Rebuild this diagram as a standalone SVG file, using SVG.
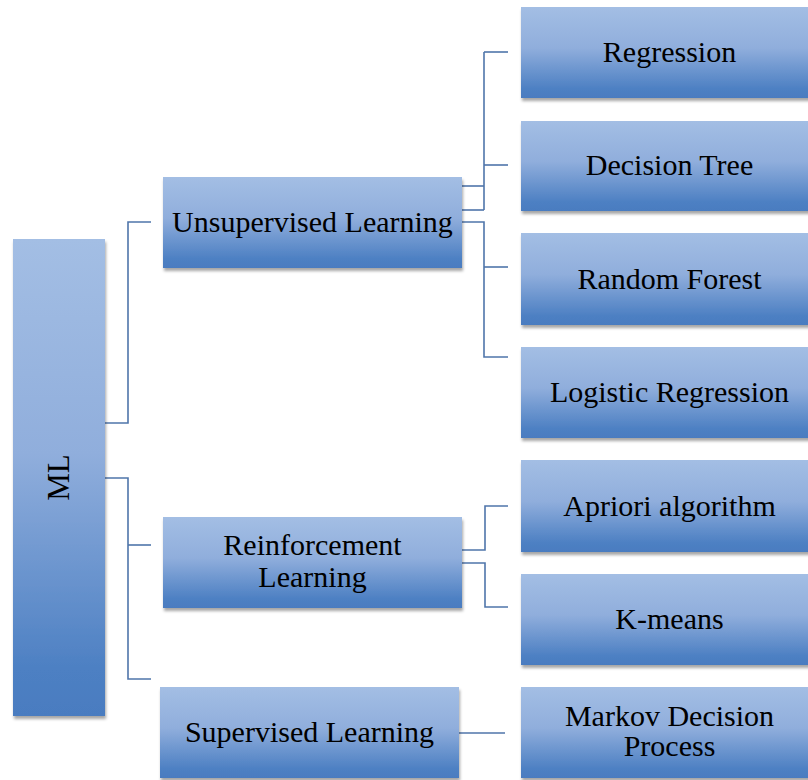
<svg xmlns="http://www.w3.org/2000/svg" width="808" height="780" viewBox="0 0 808 780">
<defs>
<linearGradient id="g" x1="0" y1="0" x2="0" y2="1">
<stop offset="0" stop-color="#A3BEE4"/>
<stop offset="0.45" stop-color="#90AEDC"/>
<stop offset="0.9" stop-color="#4D80C3"/>
<stop offset="1" stop-color="#4A7CC0"/>
</linearGradient>
<filter id="sh" x="-10%" y="-10%" width="130%" height="130%">
<feDropShadow dx="1" dy="3" stdDeviation="1.5" flood-color="#000" flood-opacity="0.35"/>
</filter>
</defs>
<style>
.box{fill:url(#g);filter:url(#sh)}
.t{font-family:"Liberation Serif","Times New Roman",serif;font-size:30px;fill:#000;text-anchor:middle}
.c path{fill:none;stroke:#4F75AA;stroke-width:1.6}
</style>
<rect width="808" height="780" fill="#fff"/>
<g class="c" id="connectors">
<path d="M105,423 H128 V222 H151"/>
<path d="M105,478 H128 V679 H151"/>
<path d="M128,545 H151"/>
<path d="M462,186 H484"/>
<path d="M462,210 H484"/>
<path d="M484,52 V210"/>
<path d="M484,52 H508"/>
<path d="M484,165 H508"/>
<path d="M462,222 H484 V357 H508"/>
<path d="M484,267 H508"/>
<path d="M462,550 H485 V506 H508"/>
<path d="M462,563 H485 V607 H508"/>
<path d="M459,733 H505"/>
</g>
<g id="ml"><rect class="box" x="13" y="239" width="92" height="477"/><text class="t" style="font-size:31px" transform="translate(69,477.5) rotate(-90)">ML</text></g>
<g id="unsupervised"><rect class="box" x="163" y="177" width="299" height="91"/><text class="t" x="312.5" y="232">Unsupervised Learning</text></g>
<g id="reinforcement"><rect class="box" x="163" y="517" width="299" height="91"/><text class="t" x="312.5" y="555">Reinforcement</text><text class="t" x="312.5" y="586.5">Learning</text></g>
<g id="supervised"><rect class="box" x="160" y="687" width="299" height="91"/><text class="t" x="309.5" y="742">Supervised Learning</text></g>
<g id="regression"><rect class="box" x="521" y="7" width="297" height="91"/><text class="t" x="669.5" y="62">Regression</text></g>
<g id="decision-tree"><rect class="box" x="521" y="121" width="297" height="90"/><text class="t" x="669.5" y="175">Decision Tree</text></g>
<g id="random-forest"><rect class="box" x="521" y="233" width="297" height="92"/><text class="t" x="669.5" y="288.5">Random Forest</text></g>
<g id="logistic-regression"><rect class="box" x="521" y="347" width="297" height="91"/><text class="t" x="669.5" y="402">Logistic Regression</text></g>
<g id="apriori"><rect class="box" x="521" y="460" width="297" height="92"/><text class="t" x="669.5" y="515.5">Apriori algorithm</text></g>
<g id="k-means"><rect class="box" x="521" y="574" width="297" height="91"/><text class="t" x="669.5" y="629">K-means</text></g>
<g id="markov"><rect class="box" x="521" y="687" width="297" height="91"/><text class="t" x="669.5" y="725.5">Markov Decision</text><text class="t" x="669.5" y="756">Process</text></g>
</svg>
